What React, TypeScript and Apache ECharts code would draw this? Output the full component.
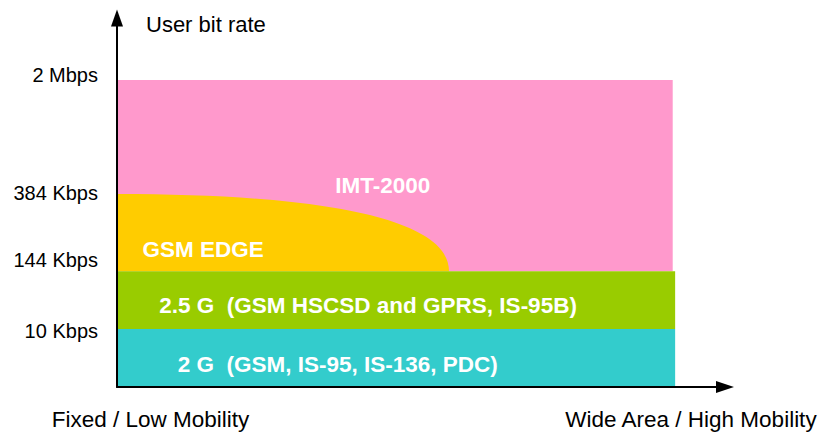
import React, { useEffect, useRef } from 'react';
import * as echarts from 'echarts';

// ---- Data (schematic units: x 0..100 mobility, y 0..100 bit-rate scale) ----
const bandNames = ['IMT-2000', 'GSM EDGE', '2.5 G  (GSM HSCSD and GPRS, IS-95B)', '2 G  (GSM, IS-95, IS-136, PDC)'];
const bandColors = ['#FF99CC', '#FFCC00', '#99CC00', '#33CCCC'];
const bandXStart = [0, 0, 0, 0];
const bandXEnd = [91.4, 54.6, 91.8, 91.8];
const bandBottom = [31.4, 31.4, 15.7, 0];
const bandTop = [83.2, 52.3, 31.4, 15.7];
const bandCurved = [false, true, false, false];

const labelX = [43.7, 4.2, 41.3, 36.3];
const labelY = [54.7, 37.3, 22.2, 6.0];
const labelAlign = ['center', 'left', 'center', 'center'];

const rateLabels = ['10 Kbps', '144 Kbps', '384 Kbps', '2 Mbps'];
const rateLabelPos = [15.3, 34.4, 52.7, 84.6];

const mobilityLabels = ['Fixed / Low Mobility', 'Wide Area / High Mobility'];
const mobilityPos = [5.5, 94.4];

const FONT = '"Liberation Sans", Arial, Helvetica, sans-serif';

function nearestLabel(v: number, pos: number[], labels: string[]) {
  let best = 0;
  for (let i = 1; i < pos.length; i++) {
    if (Math.abs(pos[i] - v) < Math.abs(pos[best] - v)) best = i;
  }
  return labels[best];
}

export default function App() {
  const ref = useRef<HTMLDivElement>(null);

  useEffect(() => {
    if (!ref.current) return;
    const chart = echarts.init(ref.current, undefined, { renderer: 'svg' });

    const bandData = bandNames.map((n, i) => ({
      name: n,
      value: [bandXStart[i], bandXEnd[i], bandBottom[i], bandTop[i], i],
    }));
    const labelData = bandNames.map((n, i) => ({ name: n, value: [labelX[i], labelY[i], i] }));

    const option: any = {
      animation: false,
      backgroundColor: '#ffffff',
      grid: { left: 117, right: 101, top: 18, bottom: 45, containLabel: false, outerBoundsMode: 'none' },
      xAxis: {
        type: 'value',
        min: 0,
        max: 100,
        z: 10,
        axisLine: {
          show: true,
          lineStyle: { color: '#000', width: 2 },
          symbol: ['none', 'triangle'],
          symbolSize: [12, 18],
        },
        axisTick: { show: false },
        splitLine: { show: false },
        axisLabel: {
          customValues: mobilityPos,
          formatter: (v: number) => nearestLabel(v, mobilityPos, mobilityLabels),
          margin: 32,
          verticalAlign: 'middle',
          fontSize: 22.5,
          fontFamily: FONT,
          color: '#000',
        },
      },
      yAxis: {
        type: 'value',
        min: 0,
        max: 100,
        z: 10,
        name: 'User bit rate',
        nameLocation: 'end',
        nameGap: -6,
        nameTextStyle: {
          align: 'left',
          verticalAlign: 'middle',
          padding: [0, 0, 0, 29],
          fontSize: 22,
          fontFamily: FONT,
          color: '#000',
        },
        axisLine: {
          show: true,
          lineStyle: { color: '#000', width: 2 },
          symbol: ['none', 'triangle'],
          symbolSize: [12, 17],
        },
        axisTick: { show: false },
        splitLine: { show: false },
        axisLabel: {
          customValues: rateLabelPos,
          formatter: (v: number) => nearestLabel(v, rateLabelPos, rateLabels),
          margin: 19,
          fontSize: 20,
          fontFamily: FONT,
          color: '#000',
        },
      },
      series: [
        {
          type: 'custom',
          name: 'bands',
          z: 1,
          silent: true,
          data: bandData,
          encode: { x: [0, 1], y: [2, 3] },
          renderItem: (params: any, api: any) => {
            const x0 = api.value(0);
            const x1 = api.value(1);
            const y0 = api.value(2);
            const y1 = api.value(3);
            const idx = api.value(4);
            const pTL = api.coord([x0, y1]);
            const pBR = api.coord([x1, y0]);
            const color = bandColors[idx];
            if (bandCurved[idx]) {
              const base = api.coord([x0, y0]);
              const top = pTL;
              const end = pBR;
              const c1x = top[0] + 0.6 * (end[0] - top[0]);
              const c2y = end[1] - 0.7 * (end[1] - top[1]);
              const d =
                `M ${base[0]} ${base[1]} L ${top[0]} ${top[1]} ` +
                `C ${c1x} ${top[1]} ${end[0]} ${c2y} ${end[0]} ${end[1]} Z`;
              return { type: 'path', shape: { pathData: d }, style: { fill: color } };
            }
            return {
              type: 'rect',
              shape: { x: pTL[0], y: pTL[1], width: pBR[0] - pTL[0], height: pBR[1] - pTL[1] },
              style: { fill: color },
            };
          },
        },
        {
          type: 'custom',
          name: 'bandLabels',
          z: 3,
          silent: true,
          data: labelData,
          encode: { x: 0, y: 1 },
          renderItem: (params: any, api: any) => {
            const idx = api.value(2);
            const p = api.coord([api.value(0), api.value(1)]);
            return {
              type: 'text',
              x: p[0],
              y: p[1],
              style: {
                text: bandNames[idx],
                fill: '#ffffff',
                fontSize: 22.5,
                fontWeight: 'bold',
                fontFamily: FONT,
                align: labelAlign[idx],
                verticalAlign: 'middle',
              },
            };
          },
        },
      ],
    };

    chart.setOption(option);
    return () => chart.dispose();
  }, []);

  return (
    <div
      ref={ref}
      style={{ position: 'fixed', left: 0, top: 0, width: 826, height: 432, background: '#fff' }}
    />
  );
}
